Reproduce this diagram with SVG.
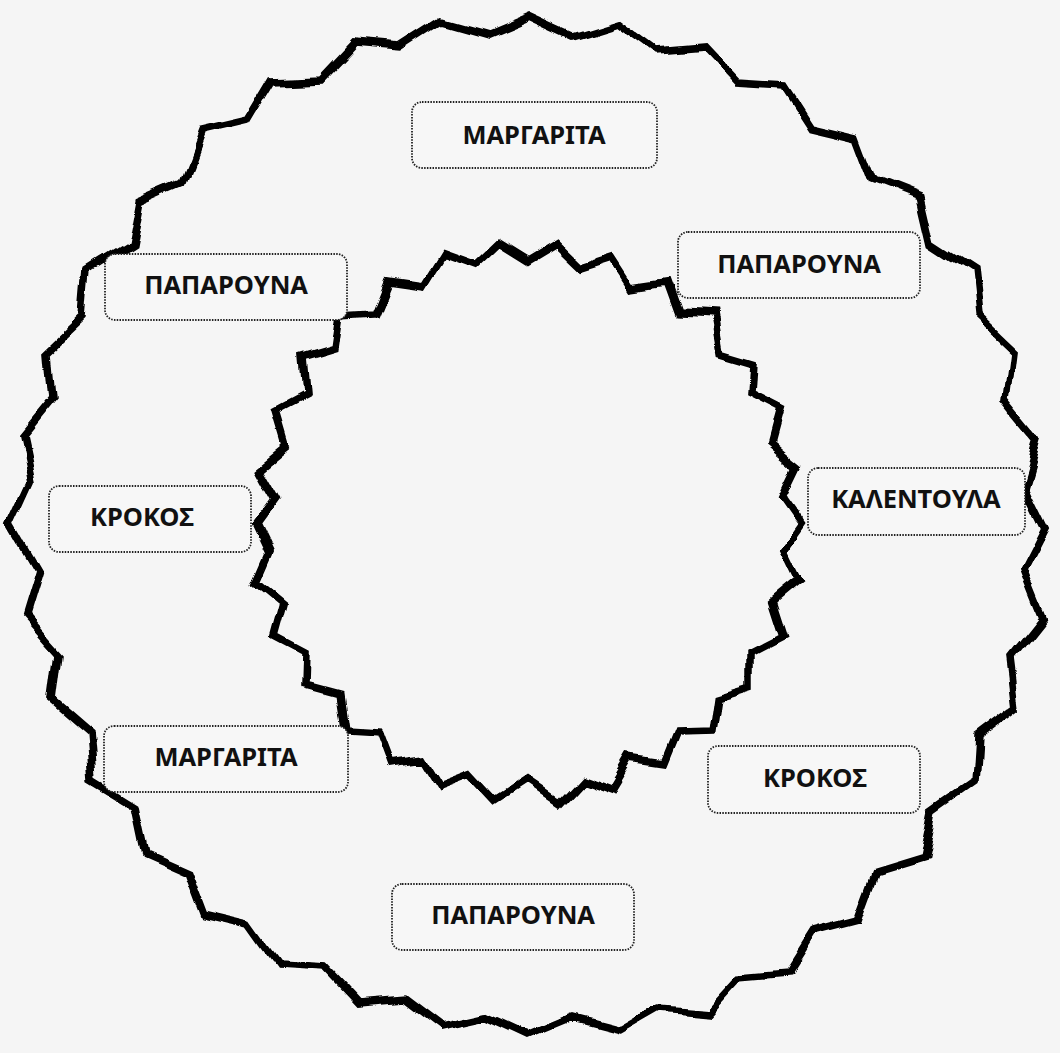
<svg xmlns="http://www.w3.org/2000/svg" width="1060" height="1053" viewBox="0 0 1060 1053">
<style>
.ring{fill:none;stroke:#000;stroke-width:7.5;stroke-linejoin:miter;stroke-miterlimit:3}
.box{fill:#f7f7f7;stroke:#222;stroke-width:1.8;stroke-dasharray:1.5 1.3}
.lbl{font-family:"Noto Sans","Liberation Sans",sans-serif;font-weight:bold;font-size:25.5px;fill:#111;text-anchor:middle;dominant-baseline:central}
</style>
<defs>
<filter id="rough" filterUnits="userSpaceOnUse" x="0" y="0" width="1060" height="1053">
<feTurbulence type="fractalNoise" baseFrequency="0.018" numOctaves="1" seed="11" result="t"/>
<feDisplacementMap in="SourceGraphic" in2="t" scale="26" xChannelSelector="R" yChannelSelector="G"/>
</filter>
</defs>
<rect width="1060" height="1053" fill="#f5f5f5"/>
<g id="wreath" filter="url(#rough)">
<path id="outer" class="ring" d="M1045,528 L1023,571 L1042,618 L1011,657 L1017,705 L976,736 L973,784 L935,811 L925,859 L876,874 L859,920 L813,932 L787,973 L739,977 L706,1013 L659,1009 L619,1032 L573,1020 L530,1038 L487,1018 L442,1028 L404,999 L357,1003 L325,969 L277,966 L250,928 L203,917 L186,872 L143,853 L133,806 L92,781 L88,734 L51,702 L57,655 L23,617 L37,571 L12,528 L32,484 L22,438 L53,400 L49,353 L84,320 L88,273 L129,247 L138,199 L182,180 L200,134 L247,123 L272,81 L320,79 L354,43 L401,47 L441,21 L487,34 L530,16 L573,36 L619,22 L658,51 L705,47 L738,82 L786,85 L812,125 L859,136 L876,181 L922,199 L933,246 L973,272 L978,319 L1013,352 L1007,400 L1038,438 L1024,485 Z"/>
<path id="inner" class="ring" d="M803,523 L784,550 L799,581 L772,603 L783,637 L752,653 L752,686 L719,696 L714,731 L679,732 L666,764 L632,759 L614,789 L581,777 L557,803 L527,783 L498,802 L473,775 L441,787 L423,757 L389,762 L377,730 L342,728 L337,694 L304,685 L305,651 L275,635 L284,602 L257,580 L270,550 L257,523 L276,497 L259,466 L285,445 L275,411 L305,395 L302,360 L335,350 L340,315 L374,313 L387,281 L421,286 L440,255 L473,267 L498,243 L527,261 L557,243 L582,267 L614,257 L633,286 L667,281 L679,314 L713,316 L719,350 L752,360 L750,394 L781,410 L772,443 L799,465 L784,496 Z"/>
</g>
<g id="labels">
<g id="n1"><rect class="box" x="412" y="102" width="245" height="66" rx="10"/><text class="lbl" x="534" y="134">ΜΑΡΓΑΡΙΤΑ</text></g>
<g id="n2"><rect class="box" x="678" y="232" width="242" height="66" rx="10"/><text class="lbl" x="799" y="263">ΠΑΠΑΡΟΥΝΑ</text></g>
<g id="n3"><rect class="box" x="105" y="254" width="242" height="66" rx="10"/><text class="lbl" x="226" y="284">ΠΑΠΑΡΟΥΝΑ</text></g>
<g id="n4"><rect class="box" x="49" y="486" width="202" height="66" rx="10"/><text class="lbl" x="142" y="516">ΚΡΟΚΟΣ</text></g>
<g id="n5"><rect class="box" x="808" y="468" width="217" height="67" rx="10"/><text class="lbl" x="916" y="498">ΚΑΛΕΝΤΟΥΛΑ</text></g>
<g id="n6"><rect class="box" x="104" y="726" width="244" height="66" rx="10"/><text class="lbl" x="226" y="756">ΜΑΡΓΑΡΙΤΑ</text></g>
<g id="n7"><rect class="box" x="708" y="746" width="212" height="67" rx="10"/><text class="lbl" x="815" y="777">ΚΡΟΚΟΣ</text></g>
<g id="n8"><rect class="box" x="392" y="884" width="242" height="66" rx="10"/><text class="lbl" x="513" y="914">ΠΑΠΑΡΟΥΝΑ</text></g>
</g>
</svg>
